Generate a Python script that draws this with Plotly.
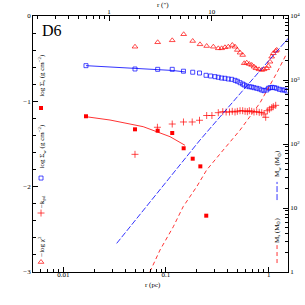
import plotly.graph_objects as go

# ---------------- data ----------------
# -log chi^2 (open red triangles), r in pc
tri_r = [0.0499, 0.0830, 0.115, 0.1486, 0.182, 0.2143, 0.249, 0.289, 0.323, 0.348, 0.375,
         0.404, 0.442, 0.470, 0.495, 0.526, 0.558, 0.578, 0.611, 0.648, 0.683, 0.719, 0.752,
         0.805, 0.855, 0.900, 0.957, 0.991, 1.030, 1.069, 1.109, 1.170, 1.197]
tri_v = [-0.360, -0.308, -0.285, -0.214, -0.293, -0.332, -0.352, -0.360, -0.379, -0.379, -0.367,
         -0.360, -0.340, -0.360, -0.398, -0.430, -0.457, -0.554, -0.547, -0.563, -0.574, -0.594, -0.613,
         -0.625, -0.633, -0.625, -0.613, -0.586, -0.536, -0.477, -0.437, -0.410, -0.398]

# log Sigma_w (open blue squares)
sq_r = [0.01663, 0.0499, 0.0830, 0.115, 0.148, 0.182, 0.212, 0.2455, 0.272, 0.300, 0.323, 0.348,
        0.375, 0.404, 0.436, 0.470, 0.495, 0.526, 0.558, 0.578, 0.611, 0.648, 0.683, 0.719, 0.764,
        0.809, 0.855, 0.900, 0.957, 0.994, 1.033, 1.080, 1.137, 1.197, 1.271, 1.350, 1.422, 1.500]
sq_v = [-0.582, -0.621, -0.625, -0.625, -0.647, -0.659, -0.668, -0.695, -0.703, -0.711, -0.718, -0.727,
        -0.730, -0.738, -0.742, -0.754, -0.765, -0.782, -0.797, -0.809, -0.820, -0.829, -0.832, -0.840, -0.847,
        -0.855, -0.867, -0.875, -0.867, -0.847, -0.840, -0.836, -0.840, -0.847, -0.859, -0.867, -0.867, -0.879]

# fit to blue squares
sqfit_r = [0.01663, 0.0499, 0.0830, 0.115, 0.153]
sqfit_v = [-0.582, -0.615, -0.627, -0.638, -0.655]

# log Sigma_s (filled red squares)
fs_r = [0.01663, 0.0499, 0.0830, 0.115, 0.1486, 0.182, 0.216, 0.2466]
fs_v = [-1.175, -1.328, -1.344, -1.371, -1.550, -1.672, -1.762, -2.340]

# fit to red squares
fsfit_r = [0.01663, 0.0285, 0.060, 0.1094, 0.153]
fsfit_v = [-1.180, -1.219, -1.297, -1.414, -1.515]

# -k (red plus)
cr_r = [0.0499, 0.0825, 0.115, 0.148, 0.180, 0.212, 0.249, 0.280, 0.323, 0.357, 0.385, 0.415,
        0.442, 0.470, 0.495, 0.526, 0.558, 0.589, 0.620, 0.648, 0.683, 0.719, 0.764, 0.809, 0.855,
        0.900, 0.935, 0.970, 1.016, 1.069, 1.109, 1.170]
cr_v = [-1.621, -1.304, -1.266, -1.242, -1.242, -1.222, -1.166, -1.166, -1.133, -1.121, -1.125, -1.125,
        -1.117, -1.125, -1.117, -1.110, -1.110, -1.117, -1.121, -1.110, -1.117, -1.125, -1.121, -1.129, -1.133,
        -1.148, -1.187, -1.110, -1.093, -1.075, -1.063, -1.047]

# M_w (blue long dash), M_s (red dash) in M_sun, right axis
mw_r = [0.0331, 0.0556, 0.214, 0.566, 1.55]
mw_m = [2.8, 7.8, 115, 700, 4490]
ms_r = [0.0698, 0.0875, 0.1178, 0.147, 0.199, 0.249, 0.361, 0.526, 0.822, 1.197, 1.507]
ms_m = [1.01, 2.21, 5.1, 10.5, 21.5, 39.3, 80.5, 165, 438, 1285, 2640]

# tick labels
x_ticks = [0.01, 0.1, 1]
x_ticktext = ["0.01", "0.1", "1"]
xtop_ticks = [1, 10]
xtop_ticktext = ["1", "10"]
y_ticks = [0, -1, -2, -3]
y_ticktext = ["0", "\u22121", "\u22122", "\u22123"]
y2_ticks = [1, 10, 100, 1000, 10000]
y2_ticktext = ["1", "10", "10<sup>2</sup>", "10<sup>3</sup>", "10<sup>4</sup>"]

RED = "#ff0000"
BLUE = "#0000ff"

def minors(decades):
    out = []
    for d in decades:
        for k in range(2, 10):
            out.append(k * d)
    return out

fig = go.Figure()

fig.add_trace(go.Scatter(x=sqfit_r, y=sqfit_v, mode="lines", line=dict(color=BLUE, width=0.8)))
fig.add_trace(go.Scatter(x=fsfit_r, y=fsfit_v, mode="lines", line=dict(color=RED, width=0.8)))
fig.add_trace(go.Scatter(x=mw_r, y=mw_m, yaxis="y2", mode="lines",
                         line=dict(color=BLUE, width=0.8, dash="6px,2px")))
fig.add_trace(go.Scatter(x=ms_r, y=ms_m, yaxis="y2", mode="lines",
                         line=dict(color=RED, width=0.8, dash="4px,3px")))
fig.add_trace(go.Scatter(x=tri_r, y=tri_v, mode="markers",
                         marker=dict(symbol="triangle-up-open", size=5, color=RED, line=dict(width=0.7, color=RED))))
fig.add_trace(go.Scatter(x=sq_r, y=sq_v, mode="markers",
                         marker=dict(symbol="square-open", size=4, color=BLUE, line=dict(width=0.7, color=BLUE))))
fig.add_trace(go.Scatter(x=fs_r, y=fs_v, mode="markers",
                         marker=dict(symbol="square", size=4, color=RED, line=dict(width=0))))
fig.add_trace(go.Scatter(x=cr_r, y=cr_v, mode="markers",
                         marker=dict(symbol="cross-thin-open", size=5, color=RED, line=dict(width=0.7, color=RED))))

# legend keys on the left
key_r = 0.00607
fig.add_trace(go.Scatter(x=[key_r], y=[-1.078], mode="markers",
                         marker=dict(symbol="square", size=4, color=RED, line=dict(width=0))))
fig.add_trace(go.Scatter(x=[key_r], y=[-1.899], mode="markers",
                         marker=dict(symbol="square-open", size=4, color=BLUE, line=dict(width=0.7, color=BLUE))))
fig.add_trace(go.Scatter(x=[key_r], y=[-2.309], mode="markers",
                         marker=dict(symbol="cross-thin-open", size=5, color=RED, line=dict(width=0.7, color=RED))))
fig.add_trace(go.Scatter(x=[key_r], y=[-2.883], mode="markers",
                         marker=dict(symbol="triangle-up-open", size=5, color=RED, line=dict(width=0.7, color=RED))))

# dummy trace to activate the top axis
fig.add_trace(go.Scatter(x=[1], y=[-5], xaxis="x2", mode="markers", marker=dict(opacity=0), hoverinfo="skip"))

TF = dict(family="Liberation Serif", size=7, color="black")
axcommon = dict(showline=True, linecolor="black", linewidth=0.8, showgrid=False, zeroline=False,
                ticks="inside", ticklen=5, tickwidth=0.8, tickcolor="black", tickfont=TF, tickmode="array",
                automargin=False)

fig.update_layout(
    width=305, height=305,
    margin=dict(l=33, r=17, t=16, b=33),
    paper_bgcolor="white", plot_bgcolor="white",
    showlegend=False,
    xaxis=dict(type="log", range=[-2.295, 0.188], tickvals=x_ticks, ticktext=x_ticktext,
               ticklabelstandoff=-4,
               minor=dict(ticks="inside", ticklen=3, tickwidth=0.8, tickcolor="black", tickmode="array",
                          tickvals=minors([0.001, 0.01, 0.1, 1])), **axcommon),
    xaxis2=dict(type="log", range=[-0.740, 1.743], overlaying="x", side="top", tickvals=xtop_ticks,
                ticktext=xtop_ticktext, ticklabelstandoff=-2,
                minor=dict(ticks="inside", ticklen=3, tickwidth=0.8, tickcolor="black", tickmode="array",
                           tickvals=minors([0.1, 1, 10])), **axcommon),
    yaxis=dict(range=[-3, 0], tickvals=y_ticks, ticktext=y_ticktext,
               minor=dict(ticks="inside", ticklen=3, tickwidth=0.8, tickcolor="black", dtick=0.2, tick0=0),
               **axcommon),
    yaxis2=dict(type="log", range=[0, 4], overlaying="y", side="right", tickvals=y2_ticks,
                ticktext=y2_ticktext,
                minor=dict(ticks="inside", ticklen=3, tickwidth=0.8, tickcolor="black", tickmode="array",
                           tickvals=minors([1, 10, 100, 1000])), **axcommon),
)

LF = dict(family="Liberation Serif", size=7, color="black")
ann = [
    dict(text="D6", x=0.0745, y=0.945, font=dict(family="Liberation Serif", size=16, color="black")),
    dict(text="r (pc)", x=0.469, y=-0.052, font=TF),
    dict(text="r (\u2033)", x=0.51, y=1.043, font=TF),
    dict(text="log \u03a3<sub>s</sub> (g cm<sup>\u22122</sup>)", x=0.035, y=0.77, textangle=-90, font=LF),
    dict(text="log \u03a3<sub>w</sub> (g cm<sup>\u22122</sup>)", x=0.035, y=0.49, textangle=-90, font=LF),
    dict(text="\u2212k<sub>\u03c1d</sub>", x=0.035, y=0.277, textangle=-90, font=LF),
    dict(text="\u2212log \u03c7<sup>2</sup>", x=0.035, y=0.102, textangle=-90, font=LF),
    dict(text="M<sub>w</sub> (M<sub>\u2299</sub>)", x=0.957, y=0.422, textangle=-90, font=LF),
    dict(text="M<sub>s</sub> (M<sub>\u2299</sub>)", x=0.957, y=0.160, textangle=-90, font=LF),
]
for a in ann:
    fig.add_annotation(xref="paper", yref="paper", showarrow=False, xanchor="center", yanchor="middle", **a)

fig.add_shape(type="line", xref="paper", yref="paper", x0=0.957, x1=0.957, y0=0.281, y1=0.352,
              line=dict(color=BLUE, width=0.8, dash="6px,2px"))
fig.add_shape(type="line", xref="paper", yref="paper", x0=0.957, x1=0.957, y0=0.035, y1=0.105,
              line=dict(color=RED, width=0.8, dash="4px,3px"))

fig.write_html("out.html", config={"displayModeBar": False},
               post_script="document.body.style.margin='0';document.body.style.padding='0';")
